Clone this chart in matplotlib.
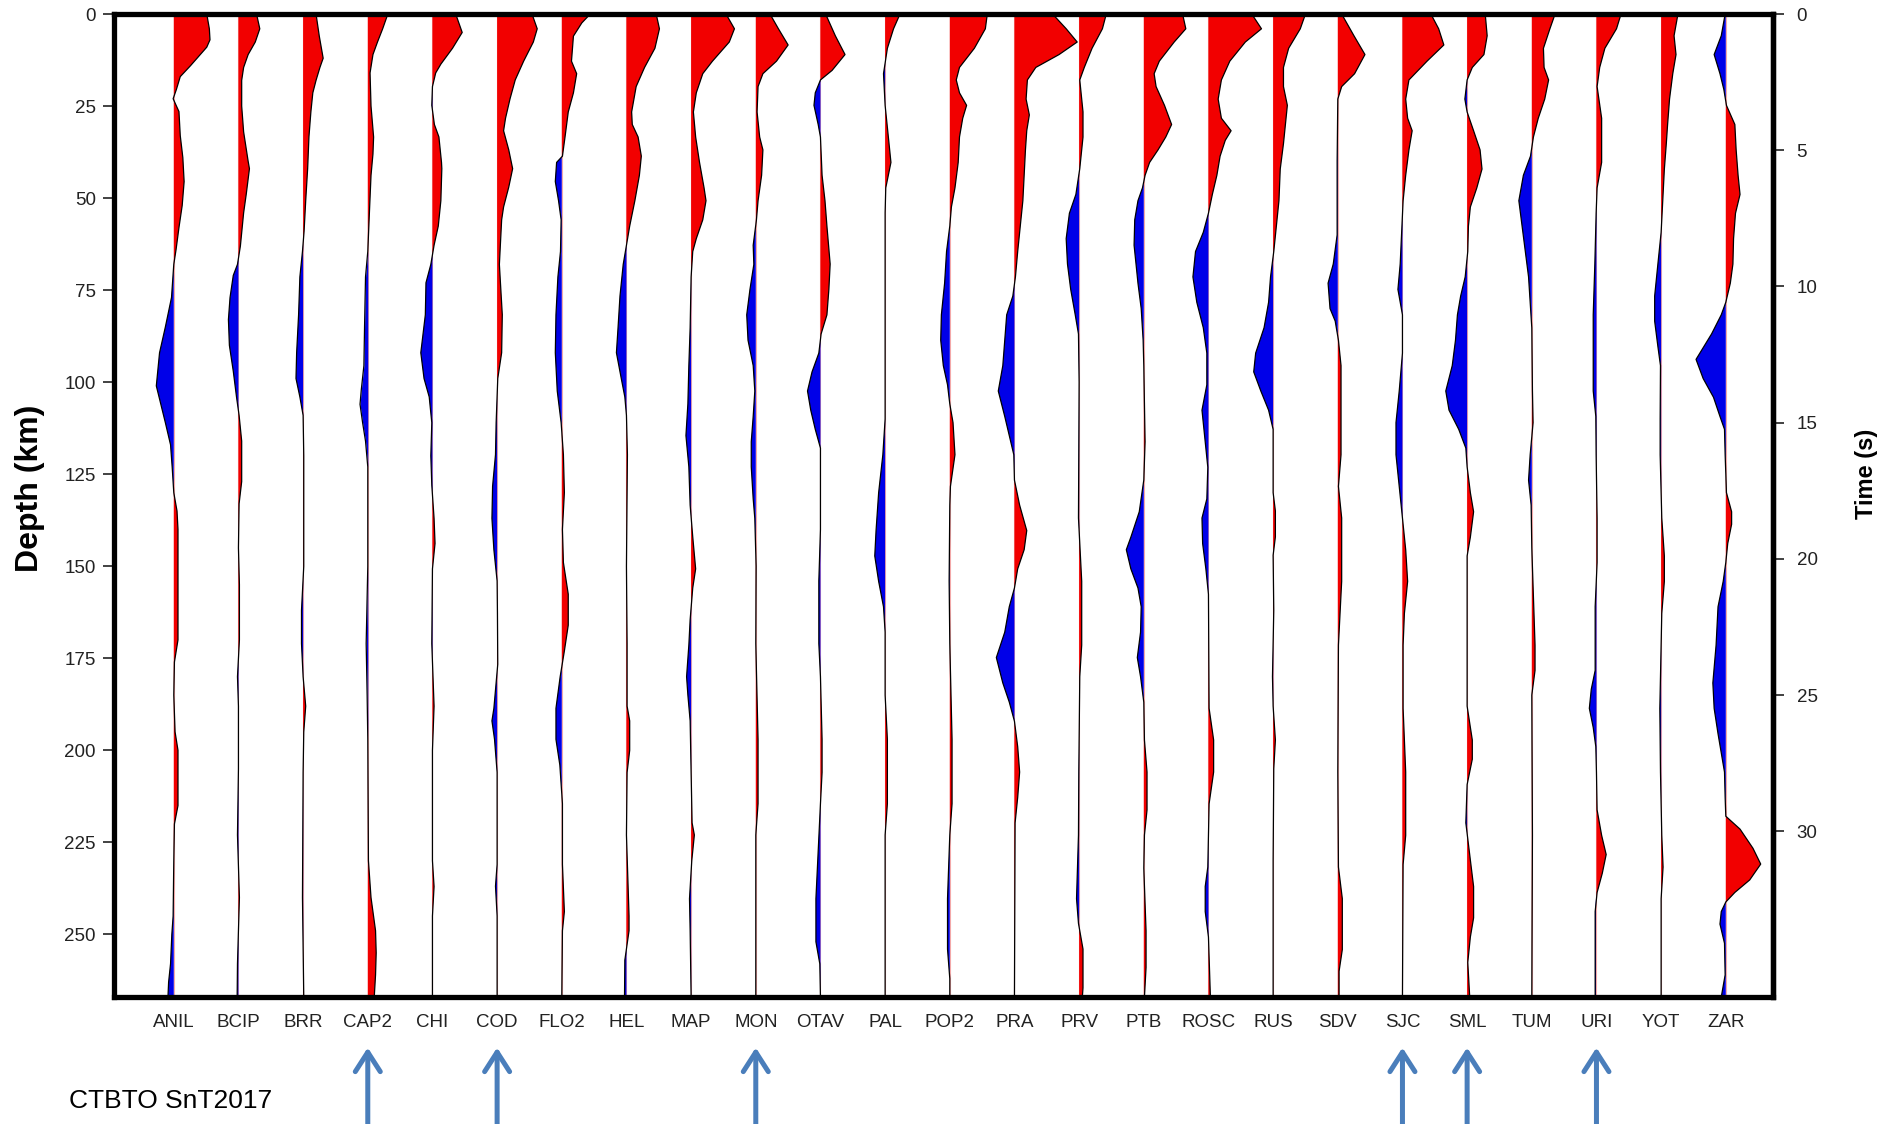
import numpy as np
import matplotlib
matplotlib.use("Agg")
import matplotlib.pyplot as plt

plt.rcParams['font.family'] = ['Liberation Sans', 'DejaVu Sans']

# ---------------- data ----------------
STATIONS = ["ANIL", "BCIP", "BRR", "CAP2", "CHI", "COD", "FLO2", "HEL", "MAP", "MON",
            "OTAV", "PAL", "POP2", "PRA", "PRV", "PTB", "ROSC", "RUS", "SDV", "SJC",
            "SML", "TUM", "URI", "YOT", "ZAR"]
MARKED = ["CAP2", "COD", "MON", "SJC", "SML", "URI"]
DEPTH_TICKS = [0, 25, 50, 75, 100, 125, 150, 175, 200, 225, 250]
TIME_TICKS = [0, 5, 10, 15, 20, 25, 30]
KM_PER_S = 7.4
DEPTH_MAX = 267

# (depth km, amplitude in station-spacing units)
ANIL = [(0, 0.51), (4, 0.55), (7, 0.56), (9, 0.51), (14, 0.26), (17, 0.1), (20.5, 0.04), (23, -0.01),
        (26.5, 0.08), (33, 0.1), (39, 0.14), (45.5, 0.16), (52, 0.13), (58, 0.08), (64, 0.035), (68, 0),
        (77, -0.035), (85, -0.13), (92, -0.22), (101, -0.27), (106, -0.2), (111, -0.13), (117, -0.05),
        (123, -0.025), (130, 0), (135, 0.05), (140, 0.065), (170, 0.065), (176, 0.01), (185, 0),
        (195, 0.02), (200, 0.065), (215, 0.065), (220, 0.01), (230, 0), (245, -0.01), (250, -0.03),
        (258, -0.05), (263, -0.08), (267, -0.09)]
BCIP = [(0, 0.28), (4, 0.33), (7.6, 0.26), (11, 0.15), (14.5, 0.08), (18, 0.05), (25, 0.05), (32, 0.08),
        (40, 0.15), (42, 0.17), (49, 0.12), (54, 0.08), (63, 0.03), (68, -0.015), (71, -0.08), (77, -0.13),
        (83, -0.155), (90, -0.14), (97, -0.08), (104, -0.03), (109, 0.01), (116, 0.05), (127, 0.05),
        (133, 0.01), (145, 0), (155, 0.015), (170, 0.015), (180, -0.015), (188, 0), (205, 0),
        (223, -0.015), (240, 0.015), (258, -0.015), (267, -0.02)]
BRR = [(0, 0.2), (6, 0.25), (12, 0.31), (14.5, 0.26), (18, 0.2), (21.4, 0.15), (26.6, 0.12), (33.4, 0.09),
       (42, 0.07), (50.7, 0.04), (59, 0.015), (64.5, -0.01), (71.4, -0.05), (81.7, -0.07), (92, -0.1),
       (99, -0.11), (104, -0.05), (109, 0), (120, 0.01), (150, 0.01), (162, -0.025), (171, -0.025),
       (180, 0), (188, 0.04), (195, 0.01), (206, 0), (240, -0.01), (267, 0.01)]
CAP2 = [(0, 0.31), (4, 0.23), (7.6, 0.15), (11, 0.08), (16, 0.035), (25, 0.05), (33.4, 0.09), (38, 0.08),
        (43.8, 0.05), (54, 0.025), (64.5, 0), (71.4, -0.035), (85, -0.05), (95.5, -0.06), (102, -0.1),
        (106, -0.12), (111, -0.08), (116, -0.035), (123, 0), (150, 0), (171, -0.025), (185, -0.01),
        (197, 0), (230, 0.01), (240, 0.05), (249, 0.12), (255, 0.13), (261, 0.12), (267, 0.1)]
CHI = [(0, 0.36), (5, 0.46), (9.3, 0.31), (13.6, 0.13), (16, 0.05), (19.7, 0), (24.8, -0.01), (30, 0.03),
       (33.4, 0.1), (40.3, 0.14), (42, 0.145), (50.7, 0.13), (57.6, 0.09), (62.8, 0.025), (68, -0.025),
       (73, -0.1), (81.7, -0.11), (92, -0.18), (99, -0.13), (104, -0.05), (111, -0.01), (120, -0.025),
       (128, -0.01), (137, 0.025), (143.8, 0.04), (150.7, 0), (171, -0.01), (188, 0.025), (200, 0),
       (230, 0), (237, 0.025), (245, 0), (267, 0)]
COD = [(0, 0.54), (4, 0.62), (7.6, 0.56), (12.8, 0.41), (17.9, 0.28), (23, 0.2), (28.3, 0.13), (31.7, 0.1),
       (36.9, 0.18), (42, 0.24), (47, 0.18), (52.4, 0.1), (55.9, 0.07), (68, 0.035), (81.7, 0.08),
       (92, 0.07), (99, 0.01), (111, -0.015), (119.7, -0.025), (128.3, -0.07), (137, -0.08),
       (145.5, -0.05), (154, 0), (162.8, 0.005), (176.6, 0.01), (188.6, -0.05), (192, -0.08),
       (197, -0.04), (206, 0), (231, 0), (236.9, -0.025), (245, 0), (267, 0)]
FLO2 = [(0, 0.44), (2.4, 0.31), (6, 0.18), (12.8, 0.15), (16.2, 0.23), (21.4, 0.18), (26.6, 0.1),
        (33.4, 0.05), (38.6, 0.01), (40.3, -0.08), (45.5, -0.1), (50.7, -0.05), (55.9, -0.01),
        (64.5, -0.02), (71.4, -0.06), (81.7, -0.09), (92, -0.1), (102.4, -0.07), (111, -0.01),
        (119.7, 0.025), (130, 0.04), (140, 0.01), (149, 0.025), (157.6, 0.1), (166, 0.1), (173, 0.04),
        (180, -0.025), (188.6, -0.09), (197, -0.09), (204, -0.03), (214.5, 0.01), (231, 0.01),
        (243.8, 0.04), (249, 0.01), (267, 0)]
HEL = [(0, 0.46), (4, 0.51), (9.3, 0.44), (14.5, 0.28), (19.7, 0.15), (26.6, 0.08), (30, 0.09),
       (33.4, 0.18), (38.6, 0.23), (43.8, 0.2), (50.7, 0.13), (57.6, 0.05), (62.8, 0), (68, -0.05),
       (76.6, -0.1), (85.2, -0.13), (92, -0.155), (99, -0.08), (104, -0.025), (109, 0), (119.7, 0.015),
       (150, 0), (171, 0.01), (188, 0.01), (192, 0.05), (200, 0.05), (206, 0.01), (223, 0), (245, 0.04),
       (249, 0.04), (257, -0.025), (267, -0.03)]
MAP = [(0, 0.54), (4, 0.67), (7.6, 0.59), (12.8, 0.33), (16.2, 0.18), (21.4, 0.08), (26.6, 0.035),
       (33.4, 0.07), (40.3, 0.13), (47.2, 0.2), (50.7, 0.23), (55.9, 0.18), (61, 0.08), (64.5, 0.025),
       (71.4, 0), (85.2, -0.015), (95.5, -0.035), (105.9, -0.05), (114.5, -0.08), (123, -0.035),
       (133.4, -0.015), (142, 0.025), (150.7, 0.07), (155.9, 0.025), (164.5, -0.015), (171.4, -0.035),
       (180, -0.07), (185, -0.05), (192, -0.015), (206, 0), (219.7, 0.015), (223, 0.05), (230, 0.01),
       (240.3, -0.025), (249, -0.015), (267, 0)]
MON = [(0, 0.22), (4, 0.35), (8.4, 0.5), (12.8, 0.32), (16.2, 0.11), (19.7, 0.035), (26.6, 0.02),
       (33.4, 0.06), (36.9, 0.11), (43.8, 0.09), (50.7, 0.035), (55.9, 0.01), (62.8, -0.04), (68, -0.03),
       (74.8, -0.09), (81.7, -0.14), (88.6, -0.12), (95.5, -0.04), (102.4, -0.015), (109.3, -0.04),
       (116.2, -0.07), (123, -0.07), (131.7, -0.04), (137, -0.015), (150, 0.005), (171, 0),
       (197, 0.035), (214.5, 0.035), (223, 0), (267, 0)]
OTAV = [(0, 0.08), (5.9, 0.23), (11, 0.38), (15.3, 0.18), (17.9, 0), (21.4, -0.08), (24.8, -0.1),
        (30, -0.035), (33.4, 0), (43.8, 0.025), (50.7, 0.07), (57.6, 0.1), (67.9, 0.15), (74.8, 0.13),
        (81.7, 0.1), (86.9, 0.01), (92.1, -0.025), (97.2, -0.13), (102.4, -0.2), (107.6, -0.15),
        (112.8, -0.08), (117.9, 0), (140, 0), (154, -0.025), (171, -0.025), (180, 0), (197, 0.025),
        (206, 0.025), (214.5, 0), (240.3, -0.07), (252, -0.07), (258, -0.01), (267, 0)]
PAL = [(0, 0.23), (4, 0.13), (9.3, 0.035), (16.2, -0.025), (24.8, 0), (33.4, 0.05), (40.3, 0.09),
       (47.2, 0.01), (54, 0), (110, 0), (119.7, -0.035), (130, -0.1), (140.3, -0.14), (147.2, -0.16),
       (154.1, -0.1), (161, -0.025), (167.9, 0), (185, 0), (197, 0.035), (214.5, 0.035), (223, 0),
       (267, 0)]
POP2 = [(0, 0.58), (4, 0.55), (9.3, 0.38), (14.5, 0.15), (17.9, 0.1), (21.4, 0.15), (24.8, 0.26),
        (28.3, 0.2), (33.4, 0.15), (40.3, 0.13), (47.2, 0.08), (52.4, 0.025), (57.6, 0), (64.5, -0.05),
        (73.1, -0.08), (81.7, -0.13), (88.6, -0.14), (95.5, -0.1), (100.7, -0.035), (105.9, 0),
        (111, 0.05), (119.7, 0.08), (128.3, 0.01), (133.4, 0), (154, -0.01), (171, 0), (197, 0.035),
        (214.5, 0.035), (223, 0), (240.3, -0.035), (254, -0.035), (262, 0), (267, 0)]
PRA = [(0, 0.59), (4, 0.8), (7.6, 0.97), (11, 0.69), (14.5, 0.33), (17.9, 0.2), (23.1, 0.18),
       (27.4, 0.23), (31.7, 0.19), (36.9, 0.17), (43.8, 0.15), (50.7, 0.13), (57.6, 0.09), (64.5, 0.05),
       (71.4, 0.015), (76.6, -0.025), (81.7, -0.12), (88.6, -0.15), (95.5, -0.18), (102.4, -0.25),
       (109.3, -0.15), (114.5, -0.08), (119.7, -0.01), (126.6, 0), (133.4, 0.08), (140.3, 0.19),
       (145.5, 0.15), (150.7, 0.05), (155.9, 0), (161, -0.08), (167.9, -0.15), (174.8, -0.28),
       (181.7, -0.18), (186.9, -0.08), (192.1, 0), (199, 0.05), (205.9, 0.08), (212.8, 0.05),
       (219.7, 0.01), (267, 0)]
PRV = [(0, 0.42), (4, 0.36), (9.3, 0.2), (14.5, 0.08), (17.9, 0.01), (26.6, 0.06), (33.4, 0.06),
       (42, 0.01), (49, -0.05), (54.1, -0.15), (61, -0.2), (67.9, -0.18), (74.8, -0.13), (81.7, -0.06),
       (86.9, -0.01), (100, 0), (136.9, -0.01), (154.1, 0.04), (171.4, 0.04), (180, 0.01),
       (205.9, -0.005), (223, -0.01), (240.3, -0.04), (247, -0.01), (254, 0.06), (264.5, 0.06),
       (267, 0.05)]
PTB = [(0, 0.6), (4, 0.65), (7.6, 0.47), (12.8, 0.24), (16.2, 0.16), (19.7, 0.19), (24.8, 0.32),
       (30, 0.43), (33.4, 0.34), (36.9, 0.22), (40.3, 0.09), (43.8, 0.02), (47.2, -0.02), (50.7, -0.09),
       (55.9, -0.14), (62.8, -0.15), (67.9, -0.12), (73.1, -0.09), (80, -0.04), (88.6, -0.01), (95.5, 0),
       (105.9, 0.01), (116.2, 0.02), (126.6, 0), (135.2, -0.07), (142.1, -0.2), (145.5, -0.27),
       (150.7, -0.2), (155.9, -0.09), (161, -0.04), (167.9, -0.05), (174.8, -0.1), (180, -0.05),
       (186.9, 0), (197.2, 0.01), (205.9, 0.05), (216.2, 0.05), (223, 0.01), (232, 0), (249, 0.035),
       (259, 0.035), (267, 0.01)]
ROSC = [(0, 0.67), (4, 0.82), (7.6, 0.57), (12.8, 0.33), (17.9, 0.2), (23.1, 0.15), (28.3, 0.2),
        (31.7, 0.35), (34.3, 0.26), (38.6, 0.18), (43.8, 0.13), (49, 0.06), (54.1, 0), (59.3, -0.08),
        (64.5, -0.2), (71.4, -0.24), (78.3, -0.18), (85.2, -0.08), (92.1, -0.025), (100.7, -0.025),
        (107.6, -0.1), (114.5, -0.06), (123.1, -0.01), (131.7, -0.025), (136.9, -0.1), (143.8, -0.09),
        (150.7, -0.04), (157.6, 0), (188.6, 0.01), (197.2, 0.08), (205.9, 0.08), (214.5, 0.01),
        (231.7, -0.01), (237, -0.05), (243.8, -0.05), (250.7, 0), (267, 0.03)]
RUS = [(0, 0.5), (4, 0.42), (9.3, 0.24), (14.5, 0.16), (19.7, 0.16), (24.8, 0.22), (30, 0.19),
       (35.2, 0.16), (42.1, 0.11), (50.7, 0.09), (57.6, 0.05), (64.5, 0.01), (71.4, -0.04), (78.3, -0.07),
       (85.2, -0.14), (92.1, -0.27), (97.2, -0.3), (102.4, -0.19), (107.6, -0.07), (112.8, 0), (130, 0),
       (135, 0.035), (142, 0.035), (147, 0), (162, 0.01), (180, -0.01), (188, 0), (197.2, 0.035),
       (205, 0.01), (230, 0), (267, 0)]
SDV = [(0, 0.06), (5.9, 0.25), (11, 0.42), (16.2, 0.26), (19.7, 0.06), (23.1, 0), (40, -0.01),
       (60, -0.01), (67.9, -0.07), (73.1, -0.15), (80, -0.12), (83.4, -0.04), (88.6, 0.01), (95.5, 0.05),
       (119.7, 0.05), (128.3, 0.01), (136.9, 0.06), (154.1, 0.06), (171.4, 0.01), (188.6, 0.005),
       (205.9, 0), (231.7, 0.01), (240.3, 0.07), (254.1, 0.07), (260, 0.02), (267, 0.02)]
SJC = [(0, 0.44), (4, 0.56), (8.4, 0.64), (12.8, 0.38), (17.9, 0.1), (23.1, 0.05), (28.3, 0.08),
       (31.7, 0.15), (36.9, 0.1), (43.8, 0.05), (50.7, 0.01), (67.9, -0.035), (74.8, -0.07), (81.7, 0),
       (92.1, 0), (102.4, -0.05), (111, -0.1), (119.7, -0.1), (128.3, -0.05), (136.9, 0), (145.5, 0.05),
       (154.1, 0.08), (162.8, 0.03), (171.4, 0.01), (188.6, 0.01), (205.9, 0.05), (223.1, 0.05),
       (231, 0.01), (267, 0)]
SML = [(0, 0.28), (5.9, 0.31), (11, 0.26), (14.5, 0.08), (17.9, 0), (23.1, -0.035), (26.6, 0),
       (31.7, 0.1), (36.9, 0.2), (42.1, 0.23), (47.2, 0.15), (52.4, 0.05), (57.6, 0.02), (64.5, 0.01),
       (71.4, -0.03), (76.6, -0.1), (81.7, -0.15), (88.6, -0.18), (95.5, -0.23), (102.4, -0.33),
       (107.6, -0.28), (112.8, -0.13), (117.9, -0.02), (123, 0), (130, 0.05), (135.2, 0.1), (142.1, 0.05),
       (147.2, 0), (170, 0), (188, 0), (197.2, 0.08), (202.4, 0.08), (209.3, 0), (219.7, -0.02),
       (237, 0.1), (245.5, 0.1), (250.7, 0.05), (257.6, 0.01), (267, 0.04)]
TUM = [(0, 0.36), (4, 0.28), (9.3, 0.18), (14.5, 0.19), (17.9, 0.26), (23.1, 0.2), (28.3, 0.1),
       (33.4, 0.025), (38.6, -0.02), (43.8, -0.13), (50.7, -0.2), (57.6, -0.15), (64.5, -0.1),
       (71.4, -0.05), (78.3, -0.025), (85.2, 0), (102.4, 0.01), (111, 0.02), (119.7, -0.025),
       (126.6, -0.05), (133.4, -0.01), (145, 0), (171.4, 0.05), (178.3, 0.05), (185, 0), (223, 0.01),
       (267, 0)]
URI = [(0, 0.38), (4, 0.31), (9.3, 0.13), (14.5, 0.05), (19.7, 0.01), (28.3, 0.08), (40.3, 0.08),
       (47.2, 0.01), (54.1, -0.005), (67.9, -0.025), (81.7, -0.05), (102.4, -0.05), (109.3, -0.01),
       (119.7, -0.005), (136.9, 0.01), (149, 0.01), (161, -0.02), (178.3, -0.02), (183.4, -0.08),
       (188.6, -0.11), (193.8, -0.05), (199, -0.01), (206, 0), (216.2, 0.01), (223.1, 0.08),
       (228.3, 0.15), (233.4, 0.09), (238.6, 0.01), (243.8, -0.02), (267, -0.02)]
YOT = [(0, 0.26), (5.9, 0.2), (11, 0.23), (16.2, 0.18), (23.1, 0.13), (30, 0.1), (35.2, 0.08),
       (42.1, 0.05), (50.7, 0.025), (59.3, 0), (67.9, -0.05), (76.6, -0.1), (83.4, -0.1), (90.3, -0.05),
       (95.5, -0.01), (110, -0.015), (119.7, -0.015), (136.9, 0.01), (147.2, 0.05), (154.1, 0.05),
       (162.8, 0.01), (188.6, -0.02), (205.9, -0.01), (223.1, 0.01), (231.7, 0.03), (240.3, 0), (267, 0)]
ZAR = [(0, -0.01), (5.9, -0.07), (11, -0.18), (16.2, -0.09), (20.5, -0.03), (24.8, 0.01), (30, 0.14),
       (36.9, 0.16), (43.8, 0.19), (49, 0.22), (54.1, 0.15), (61, 0.12), (67.9, 0.11), (73.1, 0.07),
       (78.3, 0), (81.7, -0.07), (86.9, -0.22), (93.8, -0.46), (99, -0.35), (104.1, -0.19),
       (109.3, -0.09), (112.8, -0.02), (119.7, -0.01), (130, 0.01), (135.2, 0.09), (138.6, 0.09),
       (143.8, 0.03), (149, 0), (154.1, -0.04), (161, -0.12), (171.4, -0.15), (181.7, -0.2),
       (188.6, -0.18), (195.5, -0.12), (200.7, -0.07), (205.9, -0.02), (212.8, -0.01), (217.9, 0),
       (221.4, 0.22), (226.6, 0.42), (230.9, 0.54), (235.2, 0.37), (238.6, 0.14), (241.2, 0),
       (243.8, -0.07), (247.2, -0.09), (252.4, -0.02), (261, -0.01), (267, -0.07)]

TRACES = [ANIL, BCIP, BRR, CAP2, CHI, COD, FLO2, HEL, MAP, MON, OTAV, PAL, POP2, PRA, PRV,
          PTB, ROSC, RUS, SDV, SJC, SML, TUM, URI, YOT, ZAR]

RED = '#f20000'
BLUE = '#0000e8'
ARROW = '#4a7ebb'
TXT = '#222222'

# ---------------- figure ----------------
fig = plt.figure(figsize=(18.91, 11.24), dpi=100)
ax = fig.add_axes([0.0603, 0.1130, 0.8773, 0.8745])

for i, tr in enumerate(TRACES, start=1):
    d = np.array([p[0] for p in tr], dtype=float)
    a = np.array([p[1] for p in tr], dtype=float)
    x = i + a
    ax.plot([i, i], [0, DEPTH_MAX], color='#f3a8a8', lw=0.8, zorder=1)
    ax.fill_betweenx(d, i, x, where=a >= 0, interpolate=True, color=RED, lw=0, zorder=2)
    ax.fill_betweenx(d, i, x, where=a <= 0, interpolate=True, color=BLUE, lw=0, zorder=2)
    ax.plot(x, d, color='black', lw=0.9, zorder=3)

ax.set_xlim(0.076, 25.73)
ax.set_ylim(DEPTH_MAX, 0)

ax.set_xticks(range(1, len(STATIONS) + 1))
ax.set_xticklabels(STATIONS)
ax.tick_params(axis='x', length=0, pad=12, labelsize=13.5, labelcolor=TXT)

ax.set_yticks(DEPTH_TICKS)
ax.tick_params(axis='y', direction='out', length=8, width=1.3, pad=5, labelsize=13.5,
               labelcolor=TXT, color='#333333')

for s in ax.spines.values():
    s.set_linewidth(3.8)
    s.set_color('black')

sec = ax.secondary_yaxis('right', functions=(lambda dd: dd / KM_PER_S, lambda t: t * KM_PER_S))
sec.set_yticks(TIME_TICKS)
sec.tick_params(direction='out', length=8, width=1.3, pad=9, labelsize=13.5, labelcolor=TXT,
                color='#333333')
sec.spines['right'].set_linewidth(3.8)

# axis titles
fig.text(30 / 1891, 1 - 488 / 1124, 'Depth (km)', fontsize=23, fontweight='bold',
         rotation=90, ha='center', va='center')
fig.text(1867 / 1891, 1 - 474 / 1124, 'Time (s)', fontsize=17, fontweight='bold',
         rotation=90, ha='center', va='center')

# arrows marking stations
for name in MARKED:
    xi = STATIONS.index(name) + 1
    ax.annotate('', xy=(xi, 0.068), xycoords=('data', 'figure fraction'),
                xytext=(xi, -0.02), textcoords=('data', 'figure fraction'),
                annotation_clip=False,
                arrowprops=dict(arrowstyle='->, head_length=0.7, head_width=0.45',
                                color=ARROW, lw=3.6, mutation_scale=20,
                                shrinkA=0, shrinkB=0))

fig.text(69 / 1891, 1 - 1101 / 1124, 'CTBTO SnT2017', fontsize=19, color='black',
         ha='left', va='center')

fig.savefig('out.png', dpi=100, facecolor='white')
